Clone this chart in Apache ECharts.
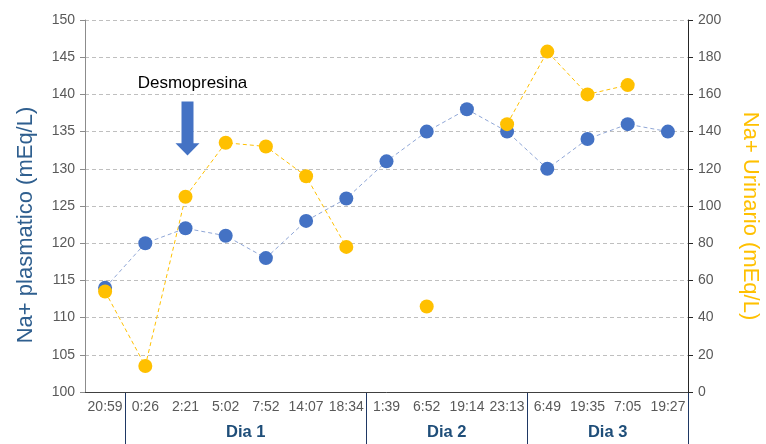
<!DOCTYPE html>
<html>
<head>
<meta charset="utf-8">
<script src="https://cdn.jsdelivr.net/npm/echarts@6/dist/echarts.min.js"></script>
<style>
  html, body { margin: 0; padding: 0; background: #fff; }
  #chart { width: 766px; height: 444px; }
</style>
</head>
<body>
<div id="chart"></div>
<script>
const times = ['20:59', '0:26', '2:21', '5:02', '7:52', '14:07', '18:34', '1:39', '6:52', '19:14', '23:13', '6:49', '19:35', '7:05', '19:27']
const naPlasma = [114, 120, 122, 121, 118, 123, 126, 131, 135, 138, 135, 130, 134, 136, 135]
const naUrine = [54, 14, 105, 134, 132, 116, 78, null, 46, null, 144, 183, 160, 165, null]

// day groups: label + first/last category index
const dayLabels = ['Dia 1', 'Dia 2', 'Dia 3']
const dayStart = [1, 7, 11]
const dayEnd = [6, 10, 14]

const font = 'Liberation Sans'
const navy = '#1f4e79'

const chart = echarts.init(document.getElementById('chart'))

chart.setOption({
  animation: false,
  textStyle: { fontFamily: font },
  grid: { left: 85, right: 78, top: 20, bottom: 52, containLabel: false, outerBoundsMode: 'none' },
  xAxis: {
    type: 'category',
    data: times,
    boundaryGap: true,
    axisLine: { lineStyle: { color: '#404040', width: 1 } },
    axisTick: { inside: true, length: 5, lineStyle: { color: '#404040' } },
    axisLabel: { color: '#595959', fontSize: 14, margin: 8, interval: 0 },
  },
  yAxis: [
    {
      type: 'value',
      min: 100,
      max: 150,
      interval: 5,
      name: 'Na+ plasmatico (mEq/L)',
      nameLocation: 'middle',
      nameGap: 48,
      nameTextStyle: { color: '#2f5f8f', fontSize: 22, padding: [0, 38, 0, 0] },
      axisLine: { show: true, lineStyle: { color: '#8c8c8c' } },
      axisTick: { show: true, length: 5, lineStyle: { color: '#8c8c8c' } },
      axisLabel: { color: '#595959', fontSize: 14, margin: 10 },
      splitLine: { lineStyle: { color: '#bfbfbf', type: [4, 3] } },
    },
    {
      type: 'value',
      min: 0,
      max: 200,
      interval: 20,
      name: 'Na+ Urinario (mEq/L)',
      nameLocation: 'middle',
      nameRotate: -90,
      nameGap: 51,
      nameTextStyle: { color: '#ffc000', fontSize: 22, padding: [0, 0, 0, 20] },
      axisLine: { show: true, lineStyle: { color: '#262626' } },
      axisTick: { show: true, length: 5, lineStyle: { color: '#262626' } },
      axisLabel: { color: '#595959', fontSize: 14, margin: 10 },
      splitLine: { show: false },
    },
  ],
  series: [
    {
      name: 'Na+ plasmatico',
      type: 'line',
      data: naPlasma,
      yAxisIndex: 0,
      symbol: 'circle',
      symbolSize: 14,
      itemStyle: { color: '#4472c4' },
      lineStyle: { color: '#8fa6d6', width: 1, type: [4, 3] },
      markPoint: {
        silent: true,
        data: [
          {
            coord: [2, 135.4],
            symbol: 'path://M25 0L75 0L75 77L100 77L50 100L0 77L25 77Z',
            symbolSize: [24, 54],
            symbolKeepAspect: false,
            symbolOffset: [2, 0],
            itemStyle: { color: '#4472c4' },
            label: {
              show: true,
              formatter: 'Desmopresina',
              position: 'top',
              distance: 10,
              offset: [5, 0],
              color: '#000',
              fontSize: 17,
            },
          },
        ],
      },
    },
    {
      name: 'Na+ Urinario',
      type: 'line',
      data: naUrine,
      yAxisIndex: 1,
      connectNulls: false,
      symbol: 'circle',
      symbolSize: 14,
      itemStyle: { color: '#ffc000' },
      lineStyle: { color: '#ffc000', width: 1, type: [4, 3] },
    },
  ],
})

// day group boxes under the time labels
const drawDays = () => {
  const y0 = chart.convertToPixel({ yAxisIndex: 0 }, 100)
  const step = chart.convertToPixel({ xAxisIndex: 0 }, 1) - chart.convertToPixel({ xAxisIndex: 0 }, 0)
  const elements = []
  const edges = new Set()
  dayLabels.forEach((label, i) => {
    const left = chart.convertToPixel({ xAxisIndex: 0 }, dayStart[i]) - step / 2
    const right = chart.convertToPixel({ xAxisIndex: 0 }, dayEnd[i]) + step / 2
    edges.add(Math.round(left) + 0.5)
    edges.add(Math.round(right) + 0.5)
    elements.push({
      type: 'text',
      style: {
        text: label,
        x: (left + right) / 2,
        y: y0 + 40,
        align: 'center',
        verticalAlign: 'middle',
        fill: navy,
        font: 'bold 16.5px ' + font,
      },
    })
  })
  edges.forEach((x) => {
    elements.push({
      type: 'line',
      shape: { x1: x, y1: y0, x2: x, y2: 444 },
      style: { stroke: '#1f3864', lineWidth: 1 },
    })
  })
  chart.setOption({ graphic: elements })
}
drawDays()
</script>
</body>
</html>
